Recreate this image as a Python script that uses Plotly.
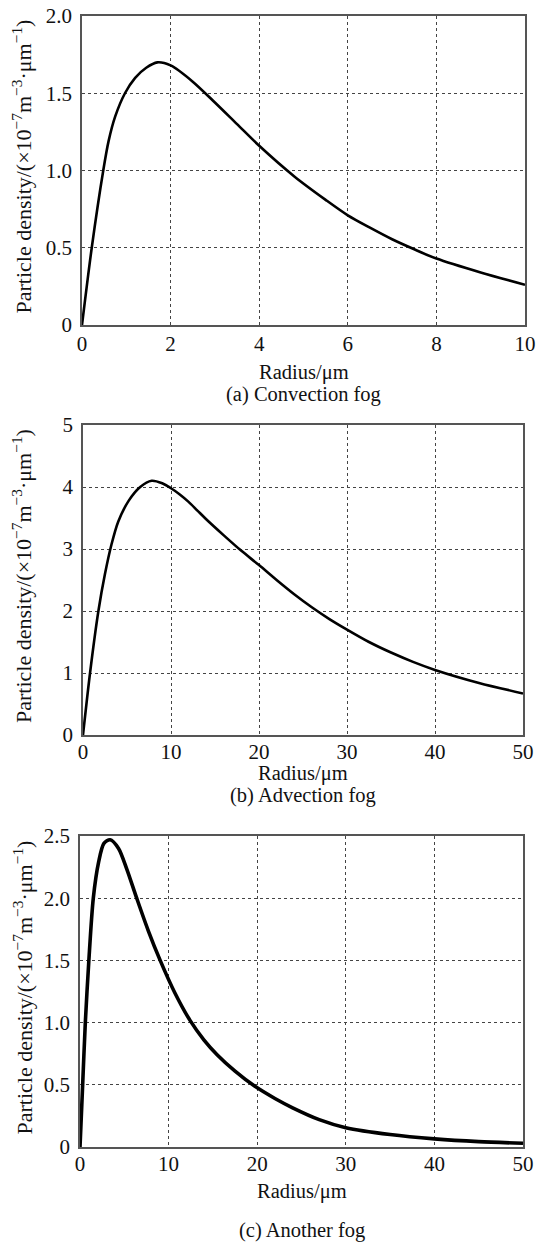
import plotly.graph_objects as go

W, H = 549, 1243

# ---- data ----
radius_a = [0, 0.22, 0.48, 0.6, 0.75, 0.97, 1.2, 1.45, 1.7, 2.0, 2.5, 3.0, 3.5, 4.0, 4.8, 5.5, 6.0, 6.5, 7.0, 7.5, 8.0, 9.0, 10]
density_a = [0, 0.50, 1.0, 1.19, 1.35, 1.50, 1.60, 1.665, 1.70, 1.68, 1.575, 1.44, 1.30, 1.16, 0.96, 0.81, 0.71, 0.63, 0.555, 0.49, 0.43, 0.34, 0.26]

radius_b = [0, 0.8, 1.75, 2.5, 3.25, 4, 5.2, 6.5, 7.8, 9, 10, 11, 12, 13, 14, 16, 18, 20, 22, 24, 26, 28, 30, 32.5, 35, 37.5, 40, 45, 50]
density_b = [0, 1.0, 2.0, 2.6, 3.08, 3.44, 3.78, 4.0, 4.10, 4.06, 3.98, 3.88, 3.76, 3.62, 3.48, 3.22, 2.97, 2.74, 2.50, 2.27, 2.06, 1.87, 1.70, 1.50, 1.33, 1.18, 1.05, 0.84, 0.67]

radius_c = [0, 0.3, 0.6, 1.0, 1.5, 2.1, 2.7, 3.4, 4.35, 5.3, 6.4, 7.7, 9.05, 10.7, 12.4, 14, 15.5, 17.5, 19.7, 22, 24, 27, 30, 35, 40, 45, 50]
density_c = [0, 0.5, 1.0, 1.5, 2.0, 2.29, 2.44, 2.47, 2.40, 2.23, 2.0, 1.74, 1.5, 1.24, 1.02, 0.86, 0.74, 0.61, 0.49, 0.39, 0.315, 0.22, 0.155, 0.10, 0.065, 0.043, 0.03]

xticks_a = [0, 2, 4, 6, 8, 10]
yticks_a = [0, 0.5, 1.0, 1.5, 2.0]
yticklabels_a = ["0", "0.5", "1.0", "1.5", "2.0"]

xticks_bc = [0, 10, 20, 30, 40, 50]
yticks_b = [0, 1, 2, 3, 4, 5]
yticklabels_b = ["0", "1", "2", "3", "4", "5"]
yticks_c = [0, 0.5, 1.0, 1.5, 2.0, 2.5]
yticklabels_c = ["0", "0.5", "1.0", "1.5", "2.0", "2.5"]

captions = ["(a) Convection fog", "(b) Advection fog", "(c) Another fog"]
x_title = "Radius/μm"
y_title = "Particle density/(×10<sup>−7</sup>m<sup>−3</sup>·μm<sup>−1</sup>)"

FONT = "Liberation Serif, Times New Roman, serif"

# screen-pixel layout of the three plot areas: (left, right, top, bottom)
boxes = [(82, 525, 16, 325), (83, 523, 425, 735), (80, 523, 836, 1147)]
xlab_y = [372, 773, 1191]
cap_y = [394, 795, 1230]
xtick_standoff = [-1, -3, -3]


def px(x):
    return x / W


def py(y):
    return 1 - y / H


fig = go.Figure()
series = [(radius_a, density_a, 2.6), (radius_b, density_b, 2.6), (radius_c, density_c, 3.6)]
for i, (xs, ys, lw) in enumerate(series):
    fig.add_trace(go.Scatter(
        x=xs, y=ys, mode="lines",
        line=dict(color="black", width=lw, shape="spline", smoothing=0.8),
        xaxis="x" if i == 0 else f"x{i+1}",
        yaxis="y" if i == 0 else f"y{i+1}",
        showlegend=False, hoverinfo="skip",
    ))

axis_common = dict(
    showline=True, mirror=True, linecolor="#555", linewidth=1.5,
    showgrid=True, gridcolor="#444", gridwidth=1, griddash="dot",
    zeroline=False, ticks="", automargin=False, ticklabeloverflow="allow",
    tickfont=dict(family=FONT, size=21, color="#111"),
)

xranges = [[0, 10], [0, 50], [0, 50]]
yranges = [[0, 2.0], [0, 5], [0, 2.5]]
xtickv = [xticks_a, xticks_bc, xticks_bc]
ytickv = [yticks_a, yticks_b, yticks_c]
yticklab = [yticklabels_a, yticklabels_b, yticklabels_c]

layout = dict(
    width=W, height=H, margin=dict(l=0, r=0, t=0, b=0, autoexpand=False),
    paper_bgcolor="white", plot_bgcolor="white",
    font=dict(family=FONT, color="#111"),
)
annotations = []
for i, (l, r, t, b) in enumerate(boxes):
    xk = "xaxis" if i == 0 else f"xaxis{i+1}"
    yk = "yaxis" if i == 0 else f"yaxis{i+1}"
    xa = "x" if i == 0 else f"x{i+1}"
    ya = "y" if i == 0 else f"y{i+1}"
    layout[xk] = dict(axis_common, domain=[px(l), px(r)], range=xranges[i],
                      tickvals=xtickv[i], ticktext=[str(v) for v in xtickv[i]],
                      anchor=ya, ticklabelstandoff=xtick_standoff[i])
    layout[yk] = dict(axis_common, domain=[py(b), py(t)], range=yranges[i],
                      tickvals=ytickv[i], ticktext=yticklab[i],
                      anchor=xa, ticklabelstandoff=4)
    cx = px((l + r) / 2)
    annotations.append(dict(text=x_title, x=cx, y=py(xlab_y[i]), xref="paper", yref="paper",
                            showarrow=False, xanchor="center", yanchor="middle",
                            font=dict(family=FONT, size=20.5, color="#111")))
    annotations.append(dict(text=captions[i], x=cx, y=py(cap_y[i]), xref="paper", yref="paper",
                            showarrow=False, xanchor="center", yanchor="middle",
                            font=dict(family=FONT, size=20.5, color="#111")))
    annotations.append(dict(text=y_title, x=px(22), y=py((t + b) / 2 - 4), xref="paper", yref="paper",
                            showarrow=False, xanchor="center", yanchor="middle", textangle=-90,
                            font=dict(family=FONT, size=22, color="#111")))
layout["annotations"] = annotations
fig.update_layout(**layout)
fig.write_html("out.html", config={"displayModeBar": False},
               post_script="document.body.style.margin='0px';")
